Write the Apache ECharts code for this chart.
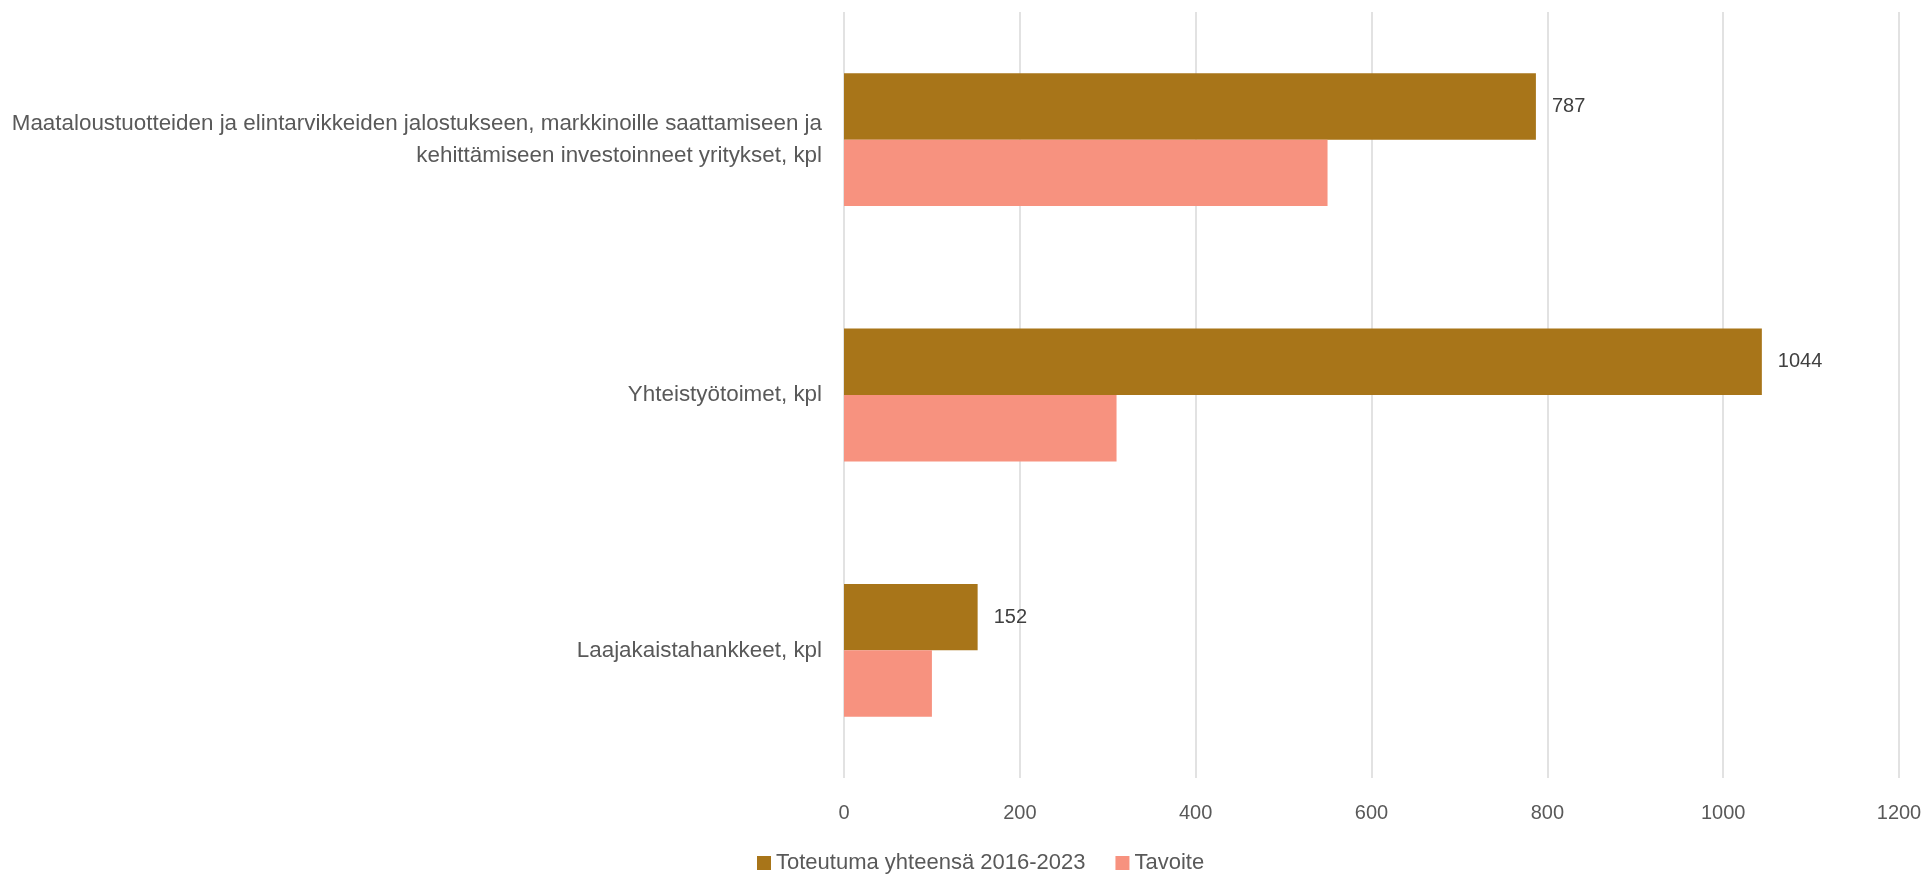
<!DOCTYPE html>
<html>
<head>
<meta charset="utf-8">
<script src="https://cdn.jsdelivr.net/npm/echarts@6/dist/echarts.min.js"></script>
<style>
  html, body { margin: 0; padding: 0; background: #fff; }
  #chart1Container { width: 1929px; height: 876px; }
</style>
</head>
<body>
<div id="chart1Container"></div>
<script>
// data
var categories = [
    'Maataloustuotteiden ja elintarvikkeiden jalostukseen, markkinoille saattamiseen ja\nkehittämiseen investoinneet yritykset, kpl',
    'Yhteistyötoimet, kpl',
    'Laajakaistahankkeet, kpl'
];
var seriesNames = ['Toteutuma yhteensä 2016-2023', 'Tavoite'];
var toteutuma = [787, 1044, 152];
var tavoite = [550, 310, 100];

var fontName = 'Liberation Sans';

var chart1Container = document.getElementById('chart1Container');
var chart1 = echarts.init(chart1Container, null, { renderer: 'canvas' });

var chart1option = {
    animation: false,
    grid: {
        left: 844,
        right: 30,
        top: 12,
        bottom: 98
    },
    legend: {
        data: seriesNames,
        left: 752,
        top: 847,
        itemWidth: 14,
        itemHeight: 14,
        itemGap: 30,
        icon: 'rect',
        textStyle: { color: '#595959', fontSize: 22, fontFamily: fontName }
    },
    xAxis: {
        type: 'value',
        min: 0,
        max: 1200,
        interval: 200,
        axisLine: { show: false },
        axisTick: { show: false },
        axisLabel: {
            color: '#595959',
            fontSize: 20,
            fontFamily: fontName,
            margin: 25,
            formatter: function (v) { return String(v); }
        },
        splitLine: { show: true, lineStyle: { color: '#d9d9d9', width: 1.5 } }
    },
    yAxis: {
        type: 'category',
        data: categories,
        inverse: true,
        axisLine: { show: false },
        axisTick: { show: false },
        axisLabel: {
            color: '#595959',
            fontSize: 22.4,
            fontFamily: fontName,
            margin: 22,
            align: 'right',
            lineHeight: 32
        }
    },
    series: [
        {
            name: seriesNames[0],
            type: 'bar',
            data: toteutuma,
            barGap: '0%',
            barCategoryGap: '48%',
            itemStyle: { color: '#A87519' },
            label: {
                show: true,
                position: 'right',
                distance: 16,
                color: '#404040',
                fontSize: 20,
                fontFamily: fontName
            }
        },
        {
            name: seriesNames[1],
            type: 'bar',
            data: tavoite,
            barGap: '0%',
            barCategoryGap: '48%',
            itemStyle: { color: '#F7927F' }
        }
    ]
};

chart1.setOption(chart1option);
window.addEventListener('resize', chart1.resize);
</script>
</body>
</html>
